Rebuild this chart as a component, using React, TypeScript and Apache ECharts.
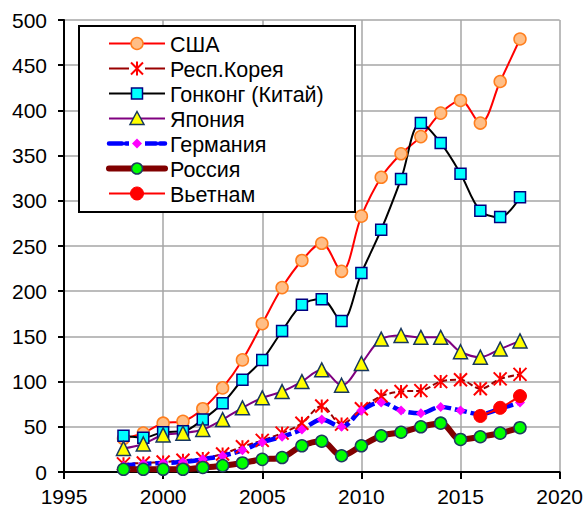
import React, { useEffect, useRef } from "react";
import * as echarts from "echarts";

const years = [1998, 1999, 2000, 2001, 2002, 2003, 2004, 2005, 2006, 2007, 2008, 2009, 2010, 2011, 2012, 2013, 2014, 2015, 2016, 2017, 2018];
const usa = [37, 43, 54, 56, 70, 93, 124, 164, 204, 234, 253, 222, 283, 326, 352, 371, 397, 411, 386, 432, 479];
const korea = [9, 10, 11, 13, 15, 20, 28, 35, 43, 54, 73, 53, 70, 84, 89, 90, 100, 102, 92, 103, 108];
const hongKong = [40, 38, 44, 45, 58, 76, 102, 124, 156, 185, 191, 167, 220, 268, 324, 386, 364, 330, 289, 282, 304];
const japan = [26, 31, 41, 43, 47, 58, 71, 82, 89, 100, 113, 96, 120, 147, 151, 149, 149, 133, 127, 136, 145];
const germany = [7, 9, 10, 11, 14, 18, 24, 33, 39, 47, 58, 50, 68, 77, 68, 65, 72, 68, 64, 70, 77];
const russia = [3, 3, 3, 3, 5, 7, 10, 14, 16, 29, 34, 18, 29, 40, 44, 50, 54, 36, 39, 43, 49];
const vietnamYears = [2016, 2017, 2018];
const vietnam = [62, 71, 84];

const names = ["США", "Респ.Корея", "Гонконг (Китай)", "Япония", "Германия", "Россия", "Вьетнам"];

const xTicks = { min: 1995, max: 2020, interval: 5 };
const yTicks = { min: 0, max: 500, interval: 50 };

const FONT = "'Liberation Sans', Arial, sans-serif";
const ASTERISK = "path://M0,0 L20,20 M0,20 L20,0 M10,0 L10,20";

const pair = (xs: number[], ys: number[]) => xs.map((x, i) => [x, ys[i]]);

export default function App() {
  const ref = useRef<HTMLDivElement>(null);
  useEffect(() => {
    document.body.style.margin = "0";
    const chart = echarts.init(ref.current!, null, { renderer: "svg" });

    const lx1 = 109, lx2 = 165, cx = 137, tx = 170, row0 = 43.5, rowGap = 25;
    const ry = (i: number) => row0 + i * rowGap;
    const legend: any[] = [
      { type: "rect", z: 100, shape: { x: 79, y: 26, width: 276, height: 186 }, style: { fill: "#fff", stroke: "#000", lineWidth: 2 } },
    ];
    const addLine = (i: number, stroke: string, lineWidth: number, lineDash?: number[], cap = "butt") =>
      legend.push({ type: "line", z: 101, shape: { x1: lx1, y1: ry(i), x2: lx2, y2: ry(i) }, style: { stroke, lineWidth, lineDash, lineCap: cap } });
    // USA
    addLine(0, "#FF0000", 2);
    legend.push({ type: "circle", z: 102, shape: { cx, cy: ry(0), r: 6 }, style: { fill: "#FFBE86", stroke: "#FF7F1E", lineWidth: 1.5 } });
    // Korea
    addLine(1, "#990000", 2);
    legend.push({ type: "rect", z: 101.5, shape: { x: cx - 8, y: ry(1) - 8, width: 16, height: 16 }, style: { fill: "#fff" } });
    [[-6, -6, 6, 6], [-6, 6, 6, -6], [0, -7, 0, 7]].forEach(([a, b, c, d]) =>
      legend.push({ type: "line", z: 102, shape: { x1: cx + a, y1: ry(1) + b, x2: cx + c, y2: ry(1) + d }, style: { stroke: "#FF0000", lineWidth: 2 } })
    );
    // Hong Kong
    addLine(2, "#000000", 2);
    legend.push({ type: "rect", z: 102, shape: { x: cx - 5.5, y: ry(2) - 5.5, width: 11, height: 11 }, style: { fill: "#00FFFF", stroke: "#000080", lineWidth: 1.5 } });
    // Japan
    addLine(3, "#800080", 2);
    legend.push({ type: "polygon", z: 102, shape: { points: [[cx, ry(3) - 7], [cx + 7, ry(3) + 6], [cx - 7, ry(3) + 6]] }, style: { fill: "#FFFF00", stroke: "#17375E", lineWidth: 1.5 } });
    // Germany
    addLine(4, "#0000FF", 4.5, [13, 4], "round");
    legend.push({ type: "rect", z: 101.5, shape: { x: cx - 8, y: ry(4) - 4, width: 16, height: 8 }, style: { fill: "#fff" } });
    legend.push({ type: "polygon", z: 102, shape: { points: [[cx, ry(4) - 5], [cx + 5, ry(4)], [cx, ry(4) + 5], [cx - 5, ry(4)]] }, style: { fill: "#FF00FF" } });
    // Russia
    addLine(5, "#800000", 6, undefined, "round");
    legend.push({ type: "circle", z: 102, shape: { cx, cy: ry(5), r: 5.5 }, style: { fill: "#00FF00", stroke: "#1F3A60", lineWidth: 1.5 } });
    // Vietnam
    addLine(6, "#FF0000", 2);
    legend.push({ type: "circle", z: 102, shape: { cx, cy: ry(6), r: 6.5 }, style: { fill: "#FF0000", stroke: "#FF0000", lineWidth: 1 } });
    names.forEach((n, i) =>
      legend.push({ type: "text", z: 103, x: tx, y: ry(i) + 1, style: { text: n, fill: "#000", font: `21.5px ${FONT}`, textVerticalAlign: "middle", textAlign: "left" } })
    );

    const smooth = 0.35;
    chart.setOption({
      animation: false,
      backgroundColor: "#fff",
      grid: { left: 64, right: 25, top: 20, bottom: 37, containLabel: false },
      xAxis: {
        type: "value",
        min: xTicks.min, max: xTicks.max, interval: xTicks.interval,
        axisLine: { show: true, onZero: false, lineStyle: { color: "#000", width: 2 } },
        axisTick: { show: true, length: 7, lineStyle: { color: "#000", width: 2 } },
        axisLabel: { color: "#000", fontSize: 21, fontFamily: FONT, margin: 14, formatter: (v: number) => String(v) },
        splitLine: { show: true, lineStyle: { color: "#A6A6A6", width: 1.5 } },
      },
      yAxis: {
        type: "value",
        min: yTicks.min, max: yTicks.max, interval: yTicks.interval,
        axisLine: { show: true, lineStyle: { color: "#000", width: 2 } },
        axisTick: { show: true, length: 6, lineStyle: { color: "#000", width: 2 } },
        axisLabel: { color: "#000", fontSize: 21, fontFamily: FONT, margin: 17, formatter: (v: number) => String(v) },
        splitLine: { show: true, lineStyle: { color: "#A6A6A6", width: 1.5 } },
      },
      graphic: legend,
      series: [
        {
          name: names[0], type: "line", smooth, data: pair(years, usa),
          lineStyle: { color: "#FF0000", width: 2 },
          symbol: "circle", symbolSize: 12,
          itemStyle: { color: "#FFBE86", borderColor: "#FF7F1E", borderWidth: 1.5 },
        },
        {
          name: names[1], type: "line", smooth, data: pair(years, korea),
          lineStyle: { color: "#990000", width: 2, type: [6, 3] },
          symbol: ASTERISK, symbolSize: 13,
          itemStyle: { color: "none", borderColor: "#FF0000", borderWidth: 2 },
        },
        {
          name: names[2], type: "line", smooth, data: pair(years, hongKong),
          lineStyle: { color: "#000000", width: 2 },
          symbol: "rect", symbolSize: 11,
          itemStyle: { color: "#00FFFF", borderColor: "#000080", borderWidth: 1.5 },
        },
        {
          name: names[3], type: "line", smooth, data: pair(years, japan),
          lineStyle: { color: "#800080", width: 2 },
          symbol: "triangle", symbolSize: 14,
          itemStyle: { color: "#FFFF00", borderColor: "#17375E", borderWidth: 1.5 },
        },
        {
          name: names[4], type: "line", smooth, data: pair(years, germany),
          lineStyle: { color: "#0000FF", width: 4.5, type: [12, 4] },
          symbol: "diamond", symbolSize: 10,
          itemStyle: { color: "#FF00FF", borderWidth: 0 },
        },
        {
          name: names[5], type: "line", smooth, data: pair(years, russia),
          lineStyle: { color: "#800000", width: 6, cap: "round", join: "round" },
          symbol: "circle", symbolSize: 12,
          itemStyle: { color: "#00FF00", borderColor: "#1F3A60", borderWidth: 1.5 },
        },
        {
          name: names[6], type: "line", smooth, data: pair(vietnamYears, vietnam),
          lineStyle: { color: "#FF0000", width: 2 },
          symbol: "circle", symbolSize: 13,
          itemStyle: { color: "#FF0000", borderColor: "#FF0000", borderWidth: 1 },
        },
      ],
    });
    return () => chart.dispose();
  }, []);
  return <div ref={ref} style={{ width: 586, height: 509 }} />;
}
